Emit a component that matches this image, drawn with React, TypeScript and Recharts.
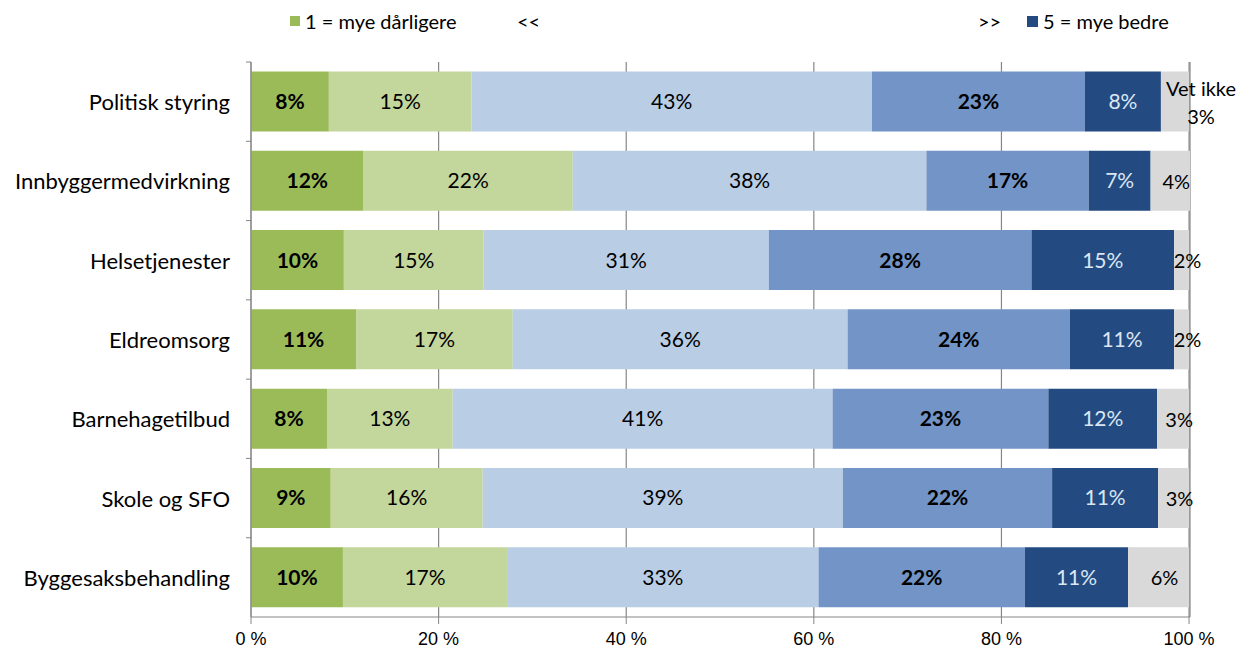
import React from "react";
import {
  BarChart,
  Bar,
  XAxis,
  YAxis,
  CartesianGrid,
  LabelList,
} from "recharts";

// kategorier og andeler (prosent), lest av figuren
const categories = [
  "Politisk styring",
  "Innbyggermedvirkning",
  "Helsetjenester",
  "Eldreomsorg",
  "Barnehagetilbud",
  "Skole og SFO",
  "Byggesaksbehandling",
];
const muchWorse = [8.3, 12.0, 9.9, 11.2, 8.1, 8.5, 9.8];
const worse = [15.2, 22.3, 14.9, 16.7, 13.4, 16.2, 17.5];
const same = [42.7, 37.7, 30.4, 35.7, 40.5, 38.4, 33.2];
const better = [22.7, 17.3, 28.0, 23.7, 23.0, 22.3, 22.0];
const muchBetter = [8.1, 6.6, 15.2, 11.1, 11.6, 11.3, 11.0];
const dontKnow = [3.0, 4.2, 1.6, 1.6, 3.4, 3.3, 6.5];

// avrundede etiketter slik de står i figuren
const lab1 = [8, 12, 10, 11, 8, 9, 10];
const lab2 = [15, 22, 15, 17, 13, 16, 17];
const lab3 = [43, 38, 31, 36, 41, 39, 33];
const lab4 = [23, 17, 28, 24, 23, 22, 22];
const lab5 = [8, 7, 15, 11, 12, 11, 11];
const lab6 = [3, 4, 2, 2, 3, 3, 6];

const xTicks = [0, 20, 40, 60, 80, 100];

const COLORS = ["#9BBB59", "#C3D69B", "#B9CDE5", "#7394C7", "#234B82", "#D9D9D9"];
const FONT = "Lato, 'Open Sans', sans-serif";

const data = categories.map((name, i) => ({
  name,
  v1: muchWorse[i],
  v2: worse[i],
  v3: same[i],
  v4: better[i],
  v5: muchBetter[i],
  v6: dontKnow[i],
  l1: lab1[i],
  l2: lab2[i],
  l3: lab3[i],
  l4: lab4[i],
  l5: lab5[i],
  l6: lab6[i],
}));

const pct = (v: any) => `${v}%`;

const CategoryTick = (props: any) => {
  const { x, y, payload } = props;
  const half = payload?.offset ?? 0;
  return (
    <g>
      <line x1={x + 16} x2={x + 21} y1={y - half} y2={y - half} stroke="#868686" />
      <text
        x={x}
        y={y}
        textAnchor="end"
        dominantBaseline="central"
        fontFamily={FONT}
        fontSize={22}
        fill="#000"
      >
        {payload.value}
      </text>
    </g>
  );
};

const VetIkkeLabel = (props: any) => {
  const { x, y, width, height, value, index } = props;
  const cy = y + height / 2;
  if (index === 0) {
    const cx = x + width + 12;
    return (
      <text x={cx} textAnchor="middle" fontFamily={FONT} fontSize={20} fill="#000">
        <tspan x={cx} y={cy - 14} dominantBaseline="central">Vet ikke</tspan>
        <tspan x={cx} y={cy + 14} dominantBaseline="central">{value}%</tspan>
      </text>
    );
  }
  return (
    <text
      x={x + width / 2 + 6}
      y={cy}
      textAnchor="middle"
      dominantBaseline="central"
      fontFamily={FONT}
      fontSize={20}
      fill="#000"
    >
      {value}%
    </text>
  );
};

const labelStyle = (bold: boolean, color = "#000") => ({
  fill: color,
  fontFamily: FONT,
  fontSize: 21,
  fontWeight: bold ? 700 : 400,
});

export default function App() {
  return (
    <div
      style={{
        position: "absolute",
        left: 0,
        top: 0,
        width: 1239,
        height: 651,
        background: "#fff",
        fontFamily: FONT,
      }}
    >
      {/* forklaring øverst */}
      <div style={{ position: "absolute", top: 9, left: 290, fontSize: 20, display: "flex", alignItems: "center" }}>
        <span style={{ width: 10, height: 10, background: COLORS[0], marginRight: 5 }} />
        <span>1 = mye dårligere</span>
      </div>
      <div style={{ position: "absolute", top: 9, left: 517, fontSize: 20 }}>&lt;&lt;</div>
      <div style={{ position: "absolute", top: 9, left: 978, fontSize: 20 }}>&gt;&gt;</div>
      <div style={{ position: "absolute", top: 9, left: 1027, fontSize: 20, display: "flex", alignItems: "center" }}>
        <span style={{ width: 11, height: 11, background: COLORS[4], marginRight: 5 }} />
        <span>5 = mye bedre</span>
      </div>

      <BarChart
        width={1239}
        height={651}
        data={data}
        layout="vertical"
        margin={{ top: 62, right: 49, bottom: 0, left: 0 }}
        barCategoryGap="12%"
      >
        <CartesianGrid horizontal={false} stroke="#868686" strokeWidth={1.2} />
        <XAxis
          type="number"
          domain={[0, 100]}
          ticks={xTicks}
          tickFormatter={(v) => `${v} %`}
          axisLine={{ stroke: "#868686" }}
          tickLine={{ stroke: "#868686" }}
          tickSize={7}
          tickMargin={8}
          height={34}
          tick={{ fill: "#000", fontSize: 18, fontFamily: "'Liberation Sans Narrow', 'Liberation Sans', sans-serif" }}
        />
        <YAxis
          type="category"
          dataKey="name"
          width={251}
          axisLine={{ stroke: "#868686" }}
          tickLine={false}
          tickSize={5}
          tickMargin={16}
          tick={<CategoryTick />}
        />
        <Bar dataKey="v1" stackId="a" fill={COLORS[0]} isAnimationActive={false}>
          <LabelList dataKey="l1" position="center" formatter={pct} style={labelStyle(true)} />
        </Bar>
        <Bar dataKey="v2" stackId="a" fill={COLORS[1]} isAnimationActive={false}>
          <LabelList dataKey="l2" position="center" formatter={pct} style={labelStyle(false)} />
        </Bar>
        <Bar dataKey="v3" stackId="a" fill={COLORS[2]} isAnimationActive={false}>
          <LabelList dataKey="l3" position="center" formatter={pct} style={labelStyle(false)} />
        </Bar>
        <Bar dataKey="v4" stackId="a" fill={COLORS[3]} isAnimationActive={false}>
          <LabelList dataKey="l4" position="center" formatter={pct} style={labelStyle(true)} />
        </Bar>
        <Bar dataKey="v5" stackId="a" fill={COLORS[4]} isAnimationActive={false}>
          <LabelList dataKey="l5" position="center" formatter={pct} style={labelStyle(false, "#DCE6F2")} />
        </Bar>
        <Bar dataKey="v6" stackId="a" fill={COLORS[5]} isAnimationActive={false}>
          <LabelList dataKey="l6" content={<VetIkkeLabel />} />
        </Bar>
      </BarChart>
    </div>
  );
}
